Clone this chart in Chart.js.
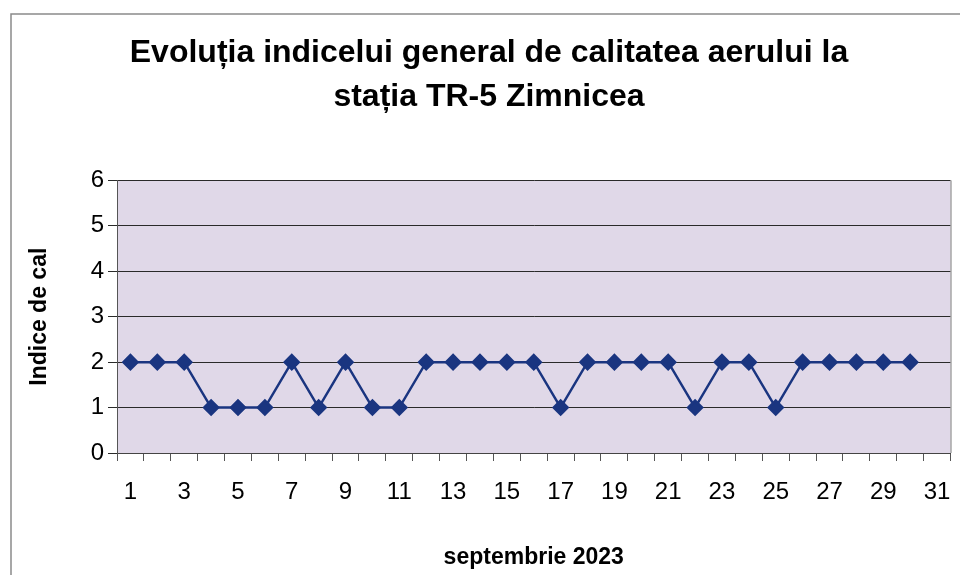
<!DOCTYPE html>
<html>
<head>
<meta charset="utf-8">
<script src="https://cdn.jsdelivr.net/npm/chart.js@4/dist/chart.umd.min.js"></script>
<style>
  html, body { margin: 0; padding: 0; background: #ffffff; }
  #wrap { position: relative; width: 960px; height: 575px; }
  canvas { display: block; }
</style>
</head>
<body>
<div id="wrap"><canvas id="c" width="960" height="575"></canvas></div>
<script>
const chartTitle = ['Evoluția indicelui general de calitatea aerului la', 'stația TR-5 Zimnicea'];
const xTitle = 'septembrie 2023';
const yTitle = 'Indice de cal';
const days = ['1','2','3','4','5','6','7','8','9','10','11','12','13','14','15','16','17','18','19','20','21','22','23','24','25','26','27','28','29','30','31'];
const indexValues = [2,2,2,1,1,1,2,1,2,1,1,2,2,2,2,2,1,2,2,2,2,1,2,2,1,2,2,2,2,2,null];
const yTicks = [0,1,2,3,4,5,6];

const FONT = "'Liberation Sans', Arial, sans-serif";

const framePlugin = {
  id: 'frame',
  beforeDraw(chart) {
    const {ctx, chartArea: a} = chart;
    ctx.save();
    ctx.fillStyle = '#ffffff';
    ctx.fillRect(0, 0, chart.width, chart.height);
    ctx.fillStyle = '#e0d8e8';
    ctx.fillRect(a.left, a.top, a.right - a.left, a.bottom - a.top);
    // outer frame (left + top edges)
    ctx.strokeStyle = '#8a8a8a';
    ctx.lineWidth = 1.5;
    ctx.beginPath();
    ctx.moveTo(11, chart.height);
    ctx.lineTo(11, 14);
    ctx.lineTo(chart.width, 14);
    ctx.stroke();
    ctx.restore();
  },
  beforeDatasetsDraw(chart) {
    const {ctx, chartArea: a} = chart;
    ctx.save();
    ctx.strokeStyle = '#7a7a7a';
    ctx.lineWidth = 1;
    ctx.beginPath();
    ctx.moveTo(a.right + 0.5, a.top);
    ctx.lineTo(a.right + 0.5, a.bottom);
    ctx.stroke();
    ctx.restore();
  }
};

new Chart(document.getElementById('c'), {
  type: 'line',
  data: {
    labels: days,
    datasets: [{
      data: indexValues,
      borderColor: '#1a3580',
      backgroundColor: '#1a3580',
      borderWidth: 2.5,
      pointStyle: 'rectRot',
      pointRadius: 7,
      pointHoverRadius: 7,
      tension: 0,
      spanGaps: false
    }]
  },
  options: {
    responsive: false,
    animation: false,
    devicePixelRatio: 1,
    layout: { padding: { left: 26, right: 8, top: 0, bottom: 0 } },
    plugins: {
      legend: { display: false },
      tooltip: { enabled: false },
      title: {
        display: true,
        text: chartTitle,
        color: '#000',
        font: { family: FONT, size: 32, weight: 'bold', lineHeight: 1.35 },
        padding: { top: 32, bottom: 62 }
      }
    },
    scales: {
      x: {
        offset: true,
        grid: {
          offset: true,
          drawOnChartArea: false,
          drawTicks: true,
          tickLength: 8,
          color: '#555'
        },
        border: { color: '#444', width: 1 },
        ticks: {
          autoSkip: false,
          maxRotation: 0,
          color: '#000',
          font: { family: FONT, size: 24 },
          padding: 17,
          callback: function(v, i) { return i % 2 === 0 ? days[i] : ''; }
        },
        title: {
          display: true,
          text: xTitle,
          color: '#000',
          font: { family: FONT, size: 23, weight: 'bold' },
          padding: { top: 0, bottom: 4 }
        },
        afterFit(scale) {
          scale.height = 122;
          scale.paddingLeft = 0;
          scale.paddingRight = 0;
        }
      },
      y: {
        min: 0,
        max: 6,
        afterBuildTicks(scale) { scale.ticks = yTicks.map(v => ({ value: v })); },
        grid: {
          color: '#2a2a2a',
          lineWidth: 1,
          tickLength: 9
        },
        border: { color: '#555', width: 1 },
        ticks: {
          color: '#000',
          font: { family: FONT, size: 24 },
          padding: 4
        },
        title: {
          display: true,
          text: yTitle,
          color: '#000',
          font: { family: FONT, size: 23, weight: 'bold' },
          padding: { top: 0, bottom: 0 }
        },
        afterFit(scale) {
          scale.width = 91;
        }
      }
    }
  },
  plugins: [framePlugin]
});
</script>
</body>
</html>
